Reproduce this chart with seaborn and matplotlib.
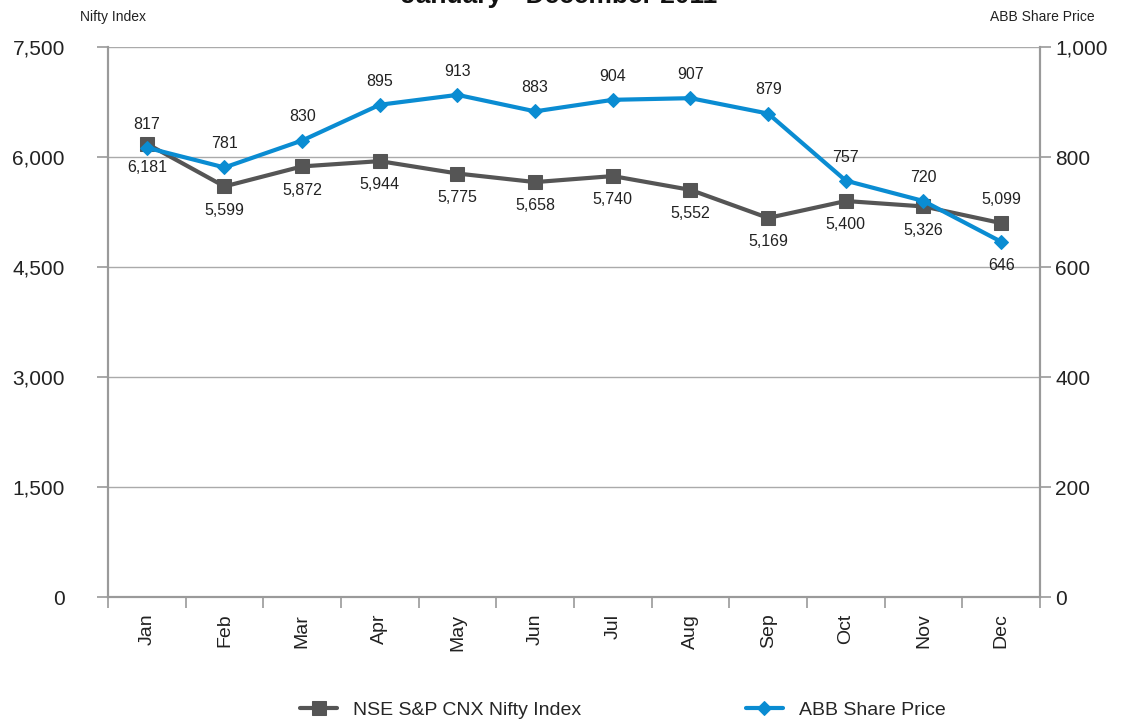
import pandas as pd
import seaborn as sns
import matplotlib.pyplot as plt
from matplotlib.ticker import FuncFormatter, FixedLocator

months = ['Jan', 'Feb', 'Mar', 'Apr', 'May', 'Jun', 'Jul', 'Aug', 'Sep', 'Oct', 'Nov', 'Dec']
nifty = [6181, 5599, 5872, 5944, 5775, 5658, 5740, 5552, 5169, 5400, 5326, 5099]
abb = [817, 781, 830, 895, 913, 883, 904, 907, 879, 757, 720, 646]
# label placement: 1 above the point, -1 below
nifty_side = [-1, -1, -1, -1, -1, -1, -1, -1, -1, -1, -1, 1]
abb_side = [1, 1, 1, 1, 1, 1, 1, 1, 1, 1, 1, -1]

gray = '#555555'
blue = '#0a8cd2'
axis_gray = '#9a9a9a'

sns.set_style('white')
plt.rcParams['font.family'] = ['Liberation Sans', 'DejaVu Sans']

df = pd.DataFrame({'pos': range(len(months)), 'month': months, 'nifty': nifty, 'abb': abb})

fig = plt.figure(figsize=(11.26, 7.2), dpi=100)
ax = fig.add_axes([0.0959, 0.1708, 0.8277, 0.7639])
ax2 = ax.twinx()

sns.lineplot(data=df, x='pos', y='nifty', ax=ax, color=gray, lw=3, marker='s', markersize=10,
             markeredgecolor=gray, label='NSE S&P CNX Nifty Index', legend=False, zorder=3)
sns.lineplot(data=df, x='pos', y='abb', ax=ax2, color=blue, lw=3, marker='D', markersize=7,
             markeredgecolor=blue, label='ABB Share Price', legend=False, zorder=4)

ax.set_xlim(-0.5, 11.5)
ax.set_ylim(0, 7500)
ax2.set_ylim(0, 1000)
ax.set_yticks([0, 1500, 3000, 4500, 6000, 7500])
ax2.set_yticks([0, 200, 400, 600, 800, 1000])
ax.yaxis.set_major_formatter(FuncFormatter(lambda v, p: f'{int(v):,}'))
ax2.yaxis.set_major_formatter(FuncFormatter(lambda v, p: f'{int(v):,}'))

ax.set_xticks(range(len(months)))
ax.set_xticklabels(months, rotation=90, fontsize=14, color='#222222')
ax.xaxis.set_minor_locator(FixedLocator([i - 0.5 for i in range(len(months) + 1)]))
ax.tick_params(axis='x', which='major', length=0, pad=12)
ax.tick_params(axis='x', which='minor', length=8, color=axis_gray, width=1.2, bottom=True)
ax.tick_params(axis='y', length=8, color=axis_gray, width=1.2, labelsize=15, pad=23, left=True,
               labelcolor='#222222')
ax2.tick_params(axis='y', length=8, color=axis_gray, width=1.2, labelsize=15, pad=3, right=True,
                labelcolor='#222222')

ax.grid(axis='y', color='#aaaaaa', lw=1)
ax.set_xlabel('')
ax.set_ylabel('')
ax2.set_ylabel('')
for a in (ax, ax2):
    a.spines['top'].set_visible(False)
    for s in ('left', 'right', 'bottom'):
        a.spines[s].set_color(axis_gray)
        a.spines[s].set_linewidth(1.5)

for i in range(len(months)):
    ax.annotate(f'{nifty[i]:,}', (i, nifty[i]), xytext=(0, 17 * nifty_side[i]), textcoords='offset points',
                ha='center', va='center', fontsize=11.5, color='#222222')
    ax2.annotate(f'{abb[i]:,}', (i, abb[i]), xytext=(0, 17 * abb_side[i]), textcoords='offset points',
                 ha='center', va='center', fontsize=11.5, color='#222222')

fig.text(0.1, 0.977, 'Nifty Index', ha='center', va='center', fontsize=10, color='#222222')
fig.text(0.926, 0.977, 'ABB Share Price', ha='center', va='center', fontsize=10, color='#222222')
fig.text(0.497, 1.006, 'January - December 2011', ha='center', va='center', fontsize=19,
         fontweight='bold', color='#111111')

h1, l1 = ax.get_legend_handles_labels()
h2, l2 = ax2.get_legend_handles_labels()
fig.legend(h1 + h2, l1 + l2, loc='center', bbox_to_anchor=(0.553, 0.014), ncol=2, frameon=False,
           fontsize=14, columnspacing=8.5, handlelength=1.9)

fig.savefig('out.png', dpi=100)
